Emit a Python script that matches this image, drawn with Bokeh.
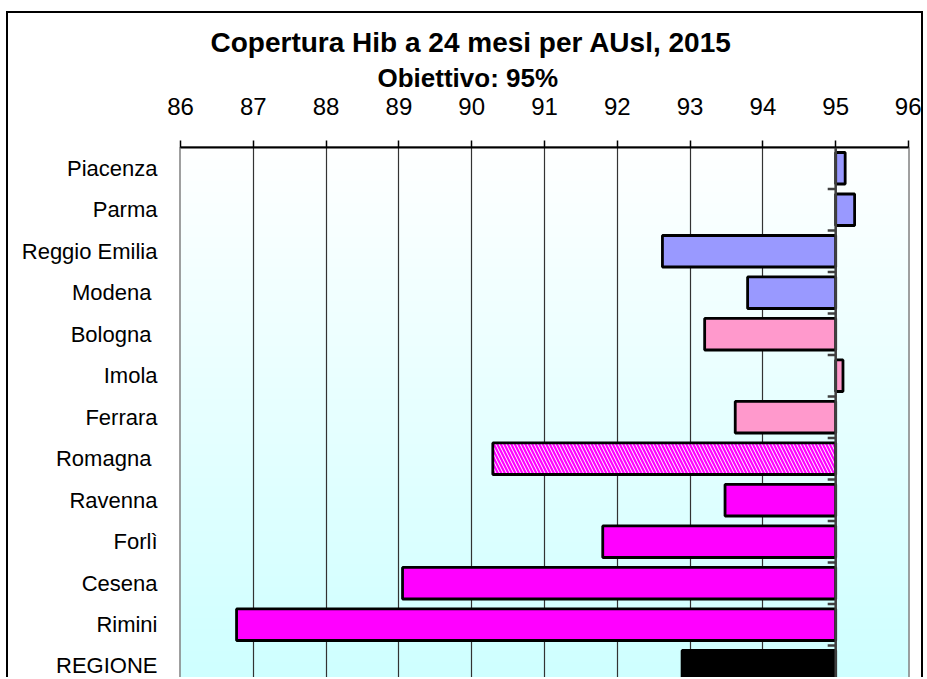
import numpy as np
from bokeh.plotting import figure
from bokeh.models import Range1d, FixedTicker, Title, Span, ColumnDataSource
from bokeh.embed import file_html
from bokeh.resources import INLINE

# ---- data ----
categories = ["Piacenza", "Parma", "Reggio Emilia", "Modena ", "Bologna ", "Imola",
              "Ferrara", "Romagna ", "Ravenna", "Forlì", "Cesena", "Rimini", "REGIONE"]
coverage = [95.13, 95.26, 92.62, 93.79, 93.20, 95.10, 93.62, 90.29, 93.48, 91.80, 89.05, 86.77, 92.89]
bar_colors = ["#9999FF"] * 4 + ["#FF99CC"] * 3 + ["#FF00FF"] * 5 + ["#000000"]
bar_hatch = ["blank"] * 7 + ["left_diagonal_line"] + ["blank"] * 5
x_ticks = list(range(86, 97))
target = 95
title_text = "Copertura Hib a 24 mesi per AUsl, 2015"
subtitle_text = "Obiettivo: 95%"

FONT = "Liberation Sans"
n = len(categories)
pos = list(range(n))

src = ColumnDataSource(dict(y=pos, right=coverage, left=[target] * n,
                            color=bar_colors, hatch=bar_hatch))

p = figure(width=917, height=666,
           x_range=Range1d(x_ticks[0], x_ticks[-1]),
           y_range=Range1d(n - 0.68, -0.5),
           x_axis_location="above",
           output_backend="svg", toolbar_location=None,
           min_border_left=172, min_border_right=17,
           min_border_bottom=0, min_border_top=134)

p.styles = {"border": "2px solid black", "border-bottom": "none",
            "margin-top": "11px", "margin-left": "6px"}

# background gradient (white -> light cyan)
rows = 200
t = np.linspace(0, 1, rows)
img = np.zeros((rows, 1), dtype=np.uint32)
view = img.view(dtype=np.uint8).reshape((rows, 1, 4))
view[:, 0, 0] = (255 - 51 * t).astype(np.uint8)
view[:, 0, 1] = 255
view[:, 0, 2] = 255
view[:, 0, 3] = 255
p.image_rgba(image=[img], x=x_ticks[0], y=-0.5, dw=x_ticks[-1] - x_ticks[0], dh=n + 0.5,
             level="image")

# bars
p.hbar(y="y", left="left", right="right", height=0.76, source=src,
       fill_color="color", line_color="black", line_width=2.8,
       hatch_pattern="hatch", hatch_color="white", hatch_scale=7, hatch_weight=1)

# target axis line with category boundary ticks
p.add_layout(Span(location=target, dimension="height", line_color="#404040", line_width=2.5))
p.ray(x=[target] * n, y=[i + 0.5 for i in pos], length=8, length_units="screen",
      angle=np.pi, line_color="#404040", line_width=2.5)

# x axis (top)
xa = p.xaxis[0]
xa.ticker = FixedTicker(ticks=x_ticks)
xa.major_label_text_font = FONT
xa.major_label_text_font_size = "24px"
xa.major_label_text_color = "black"
xa.major_label_standoff = 26
xa.major_tick_out = 7
xa.major_tick_in = 0
xa.minor_tick_line_color = None
xa.axis_line_width = 2
xa.axis_line_color = "black"
xa.major_tick_line_color = "black"
xa.major_tick_line_width = 1.5

# y axis (categories)
ya = p.yaxis[0]
ya.ticker = FixedTicker(ticks=pos)
ya.major_label_overrides = {i: c for i, c in enumerate(categories)}
ya.major_label_text_font = FONT
ya.major_label_text_font_size = "22px"
ya.major_label_text_color = "black"
ya.major_label_standoff = 23
ya.major_tick_out = 0
ya.major_tick_in = 0
ya.axis_line_color = None
ya.major_tick_line_color = None
ya.minor_tick_line_color = None

p.ygrid.grid_line_color = None
p.xgrid.ticker = FixedTicker(ticks=x_ticks)
p.xgrid.grid_line_color = "#333333"
p.xgrid.grid_line_width = 1.2

p.outline_line_color = "#808080"
p.outline_line_width = 2.5
p.background_fill_color = "white"
p.border_fill_color = "white"

p.title.text = title_text
p.title.align = "left"
p.title.offset = 30
p.title.text_font = FONT
p.title.text_font_size = "28px"
p.title.text_font_style = "bold"
p.title.text_color = "black"
p.title.standoff = 1

sub = Title(text=subtitle_text, align="left", offset=197, text_font=FONT,
            text_font_size="26px", text_font_style="bold", text_color="black",
            standoff=4)
p.add_layout(sub, "above")

open("out.html", "w").write(file_html(p, INLINE))
